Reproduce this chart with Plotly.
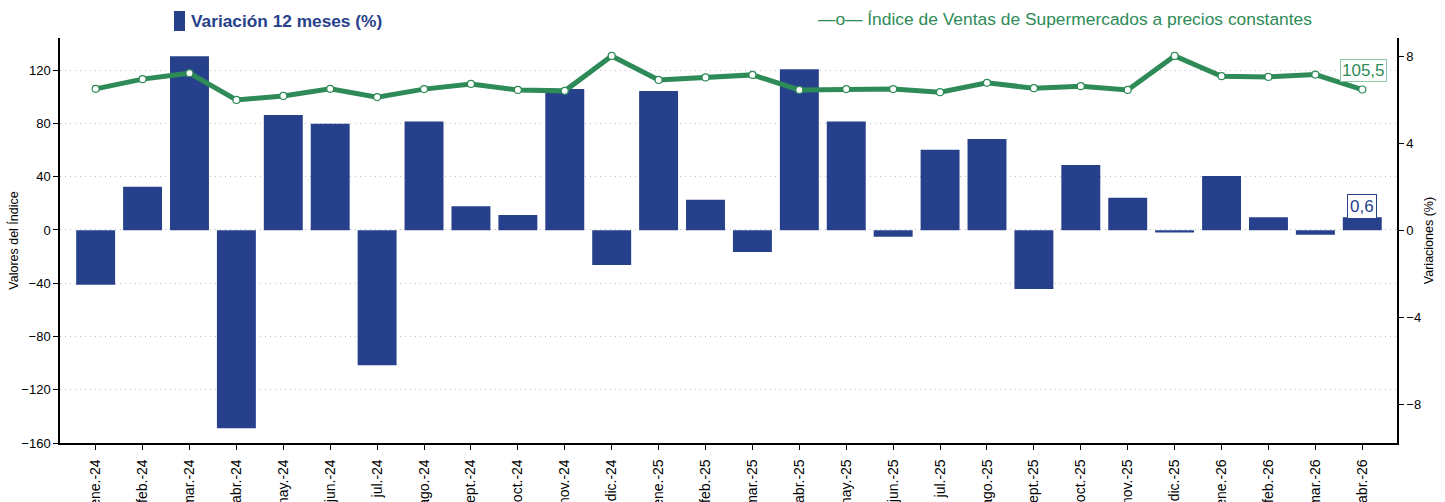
import plotly.graph_objects as go

categories = ["ene.-24", "feb.-24", "mar.-24", "abr.-24", "may.-24", "jun.-24", "jul.-24",
              "ago.-24", "sept.-24", "oct.-24", "nov.-24", "dic.-24", "ene.-25", "feb.-25",
              "mar.-25", "abr.-25", "may.-25", "jun.-25", "jul.-25", "ago.-25", "sept.-25",
              "oct.-25", "nov.-25", "dic.-25", "ene.-26", "feb.-26", "mar.-26", "abr.-26"]

variacion_12m = [-2.5, 2.0, 8.0, -9.1, 5.3, 4.9, -6.2, 5.0, 1.1, 0.7, 6.5, -1.6, 6.4, 1.4,
                 -1.0, 7.4, 5.0, -0.3, 3.7, 4.2, -2.7, 3.0, 1.5, -0.1, 2.5, 0.6, -0.2, 0.6]

indice = [106.0, 113.3, 117.8, 97.7, 100.7, 106.0, 99.8, 105.8, 109.7, 105.2, 104.5, 130.7,
          112.7, 114.6, 116.5, 105.2, 105.8, 105.8, 103.5, 110.5, 106.5, 108.0, 105.2, 130.7,
          115.5, 115.0, 116.7, 105.5]

left_ticks = [-160, -120, -80, -40, 0, 40, 80, 120]
right_ticks = [-8, -4, 0, 4, 8]

left_range = [-160, 144.2]
right_range = [-9.78, 8.84]

BLUE = "#27408b"
GREEN = "#2e8b57"
FONT = "Liberation Sans, Arial, sans-serif"

ratio = (right_range[1] - right_range[0]) / (left_range[1] - left_range[0])
grid_vals = [right_range[0] + (v - left_range[0]) * ratio for v in left_ticks]

fig = go.Figure()
fig.add_trace(go.Bar(
    x=categories, y=variacion_12m, marker=dict(color=BLUE, line=dict(width=0)),
    width=0.83, yaxis="y", name="Variación 12 meses (%)", showlegend=False,
))
fig.add_trace(go.Scatter(
    x=categories, y=indice, yaxis="y2", mode="lines+markers",
    line=dict(color=GREEN, width=5),
    marker=dict(color="white", size=7, line=dict(color=GREEN, width=1.2)),
    name="Índice", showlegend=False,
))

fig.update_layout(
    width=1445, height=502,
    margin=dict(l=60, r=48, t=38, b=59),
    plot_bgcolor="white", paper_bgcolor="white",
    font=dict(family=FONT, size=13, color="black"),
    xaxis=dict(
        type="category", range=[-0.76, 27.74], tickangle=-90,
        showline=True, linecolor="black", linewidth=1.5,
        ticks="outside", ticklen=5, tickcolor="black",
        tickfont=dict(size=14), automargin=False, showgrid=False,
        ticklabelstandoff=4,
    ),
    yaxis=dict(
        side="right", range=right_range, tickvals=right_ticks,
        showline=True, linecolor="black", linewidth=1.5,
        ticks="outside", ticklen=5, tickcolor="black",
        showgrid=False, zeroline=False, automargin=False,
        title=dict(text="Variaciones (%)", font=dict(size=12.5), standoff=4),
        minor=dict(tickvals=grid_vals, showgrid=True, gridcolor="#bdbdbd",
                   griddash="1px,4px", gridwidth=1, ticklen=0),
    ),
    yaxis2=dict(
        side="left", overlaying="y", range=left_range, tickvals=left_ticks,
        showline=True, linecolor="black", linewidth=1.5,
        ticks="outside", ticklen=5, tickcolor="black",
        showgrid=False, zeroline=False, automargin=False,
        title=dict(text="Valores del Índice", font=dict(size=12.5), standoff=0),
    ),
)

def py(pixel_y):
    return (443 - pixel_y) / 405

def px(pixel_x):
    return (pixel_x - 60) / 1337

# Legend entries (custom, at top)
fig.add_shape(type="rect", xref="paper", yref="paper",
              x0=px(174), x1=px(185), y0=py(31), y1=py(11),
              fillcolor=BLUE, line=dict(width=0))
fig.add_annotation(xref="paper", yref="paper", x=px(189), y=py(21),
                   xanchor="left", yanchor="middle", showarrow=False,
                   text="<b>Variación 12 meses (%)</b>",
                   font=dict(size=17.3, color=BLUE, family=FONT))
fig.add_annotation(xref="paper", yref="paper", x=px(816), y=py(19),
                   xanchor="left", yanchor="middle", showarrow=False,
                   text="—o— Índice de Ventas de Supermercados a precios constantes",
                   font=dict(size=17.4, color=GREEN, family=FONT))

# Data labels for last values
fig.add_annotation(x=categories[-1], y=indice[-1], yref="y2", yshift=19, xshift=1,
                   text=f"{indice[-1]:.1f}".replace(".", ","), showarrow=False,
                   font=dict(size=17, color=GREEN, family=FONT),
                   bgcolor="white", bordercolor="#8fc8a4", borderwidth=1, borderpad=1)
fig.add_annotation(x=categories[-1], y=variacion_12m[-1], yref="y", yshift=11,
                   text=f"{variacion_12m[-1]:.1f}".replace(".", ","), showarrow=False,
                   font=dict(size=17, color=BLUE, family=FONT),
                   bgcolor="white", bordercolor=BLUE, borderwidth=1, borderpad=2)

fig.write_html("out.html", post_script="document.body.style.margin='0';",
               config={"displayModeBar": False})
